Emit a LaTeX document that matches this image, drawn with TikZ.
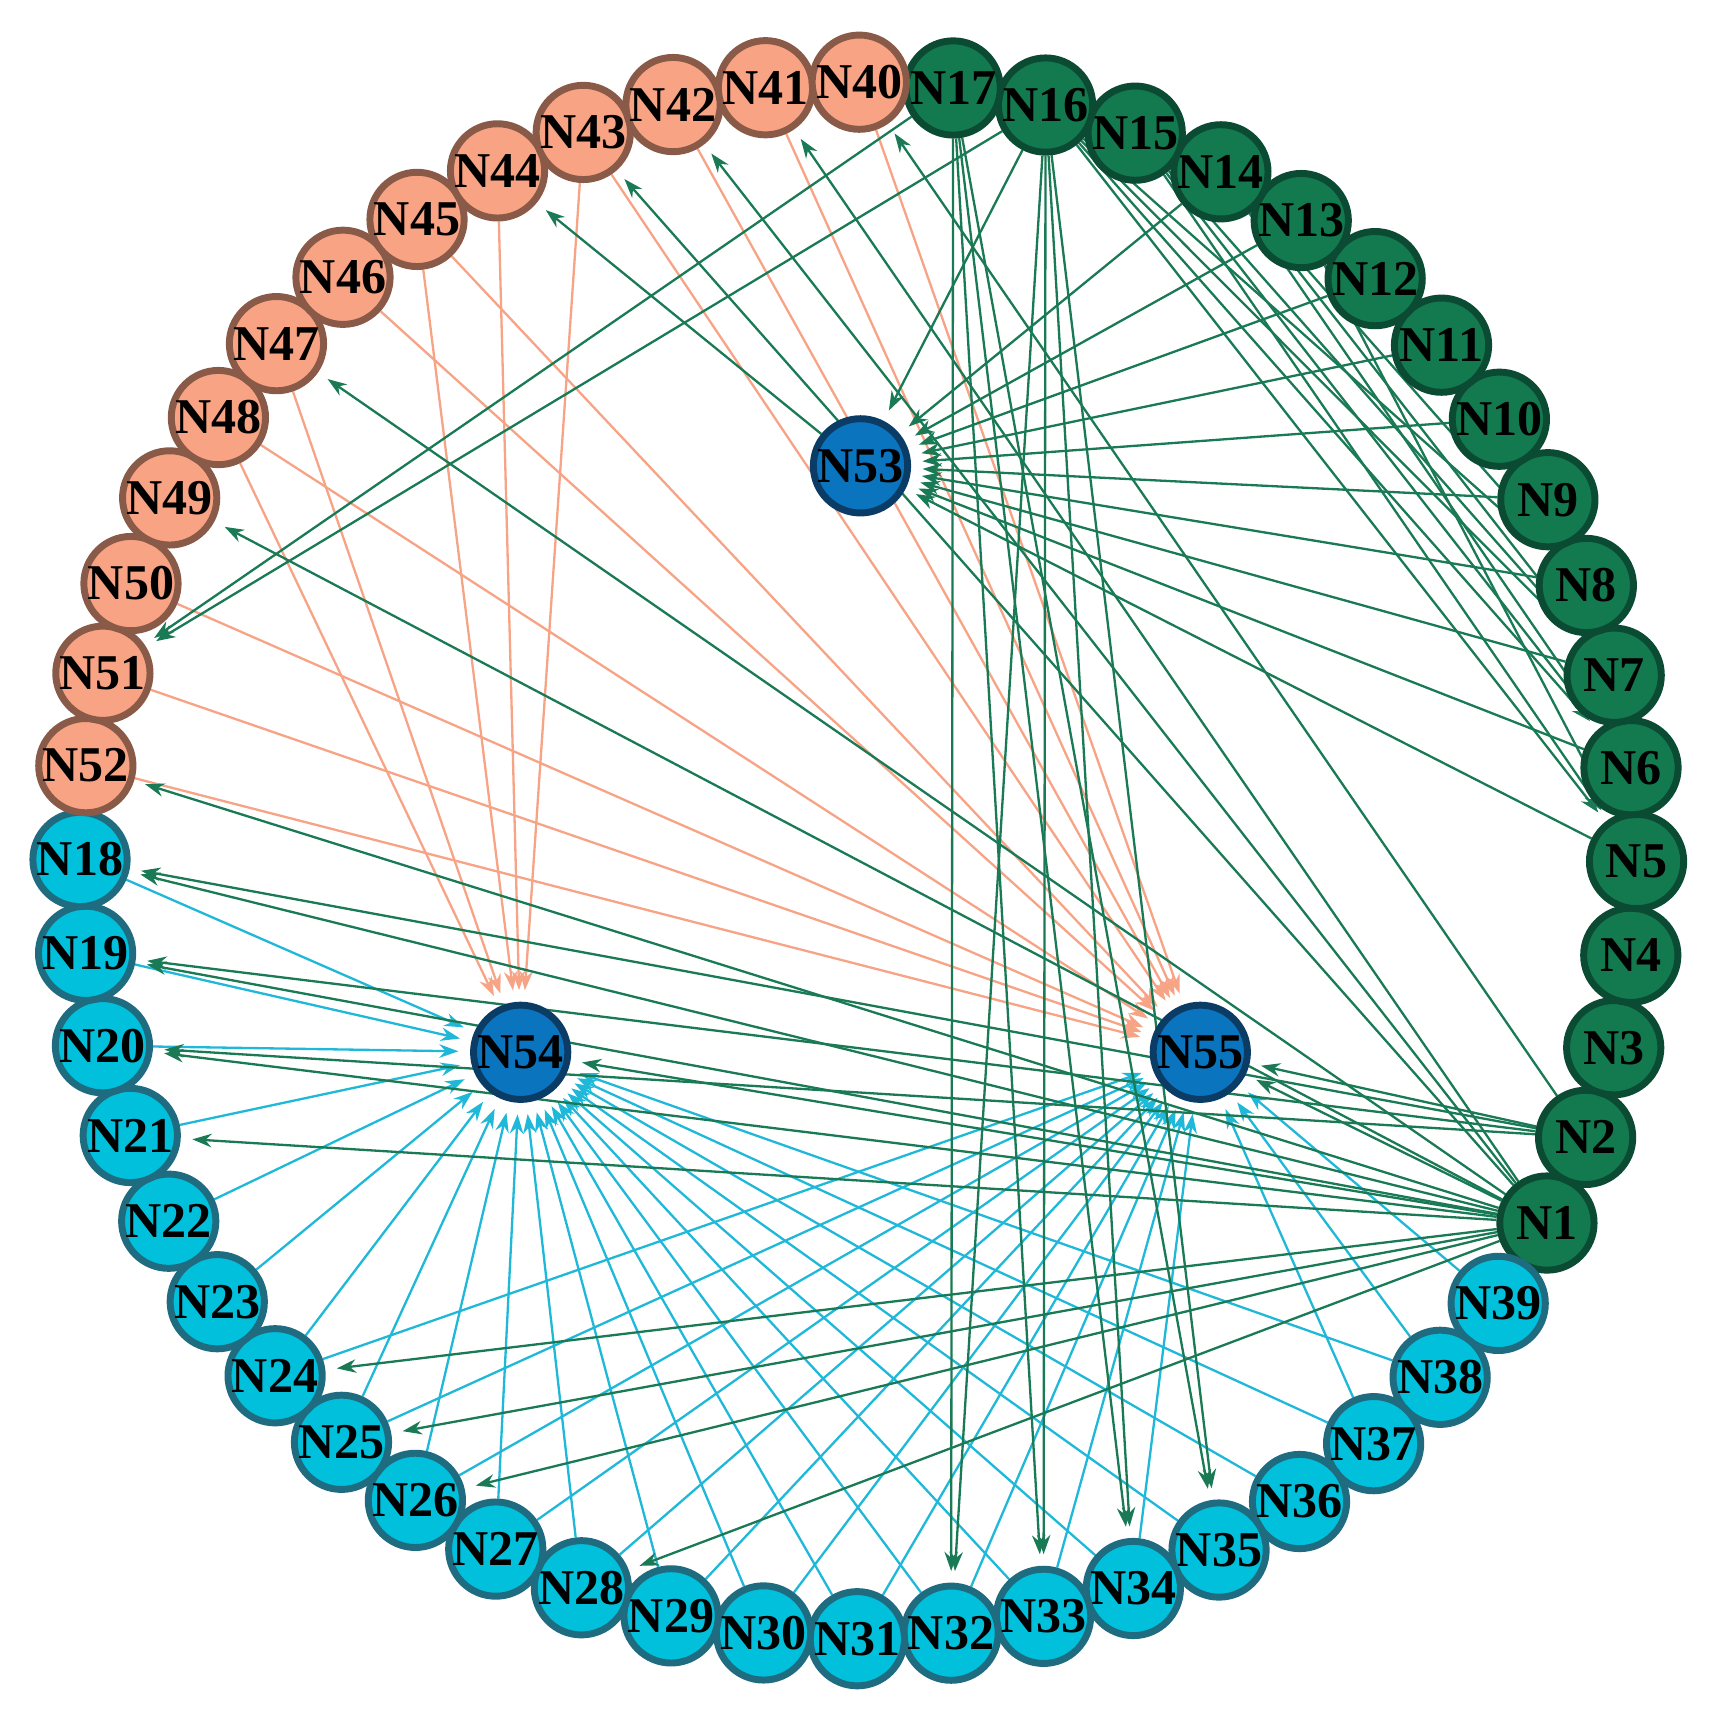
\documentclass[tikz,border=0pt]{standalone}
\usepackage{fontspec}
\setmainfont{Liberation Serif}
\usetikzlibrary{arrows.meta,backgrounds}
\definecolor{gfill}{HTML}{137A50}\definecolor{gbord}{HTML}{0B4B33}\definecolor{gedge}{HTML}{1A7A55}
\definecolor{cfill}{HTML}{00C0DC}\definecolor{cbord}{HTML}{1F6B80}\definecolor{cedge}{HTML}{20B8D8}
\definecolor{sfill}{HTML}{F8A384}\definecolor{sbord}{HTML}{8A5A48}\definecolor{sedge}{HTML}{F7A486}
\definecolor{bfill}{HTML}{0B74BF}\definecolor{bbord}{HTML}{0A3C66}
\tikzset{
 nd/.style={circle,minimum size=0.86cm,inner sep=0pt,line width=1.8pt,font=\fontsize{13}{13}\selectfont\bfseries,text=black},
 gn/.style={nd,fill=gfill,draw=gbord},
 cn/.style={nd,fill=cfill,draw=cbord},
 sn/.style={nd,fill=sfill,draw=sbord},
 bn/.style={nd,fill=bfill,draw=bbord},
 ed/.style={line width=0.6pt,-{Stealth[length=5pt,width=3.5pt]},shorten >=3pt},
 ge/.style={ed,draw=gedge},
 ce/.style={ed,draw=cedge},
 se/.style={ed,draw=sedge}
}
\begin{document}
\begin{tikzpicture}
\useasboundingbox (0,0) rectangle (15.6,15.6);
\begin{scope}[shift={(7.83,7.75)}]
\foreach \k in {1,...,17} \node[gn] (N\k) at ({83-(17-\k)*6.923}:7.1) {N\k};
\foreach \j in {0,...,21} {\pgfmathtruncatemacro\n{39-\j}\node[cn] (N\n) at ({83-(17+\j)*6.923}:7.1) {N\n};}
\foreach \j in {0,...,12} {\pgfmathtruncatemacro\n{52-\j}\node[sn] (N\n) at ({83-(39+\j)*6.923}:7.1) {N\n};}
\end{scope}
\node[bn] (N53) at (7.85,11.35) {N53};
\node[bn] (N54) at (4.75,6.0) {N54};
\node[bn] (N55) at (10.95,6.0) {N55};
\begin{scope}[on background layer]
\foreach \a in {43,44,45,47,48} \draw[se] (N\a) -- (N54);
\foreach \a in {40,41,42,43,45,46,48,50,51,52} \draw[se] (N\a) -- (N55);
\foreach \a in {18,...,38} \draw[ce] (N\a) -- (N54);
\foreach \a in {24,...,34,37,38,39} \draw[ce] (N\a) -- (N55);
\foreach \a in {5,...,14,16} \draw[ge] (N\a) -- (N53);
\foreach \a/\b in {53/44,2/40,1/41,1/42,1/43,16/51,17/51,1/47,1/49,1/52,1/18,2/18,1/19,2/19,1/20,2/20,1/21,1/24,1/25,1/26,1/28,1/54,2/55,1/55,
17/32,17/33,17/34,17/35,16/32,16/33,16/34,16/35,16/5,16/6,16/7,16/8,15/5,15/6,15/7,14/6,14/7,14/8,13/5}
  \draw[ge] (N\a) -- (N\b);
\end{scope}
\end{tikzpicture}
\end{document}
